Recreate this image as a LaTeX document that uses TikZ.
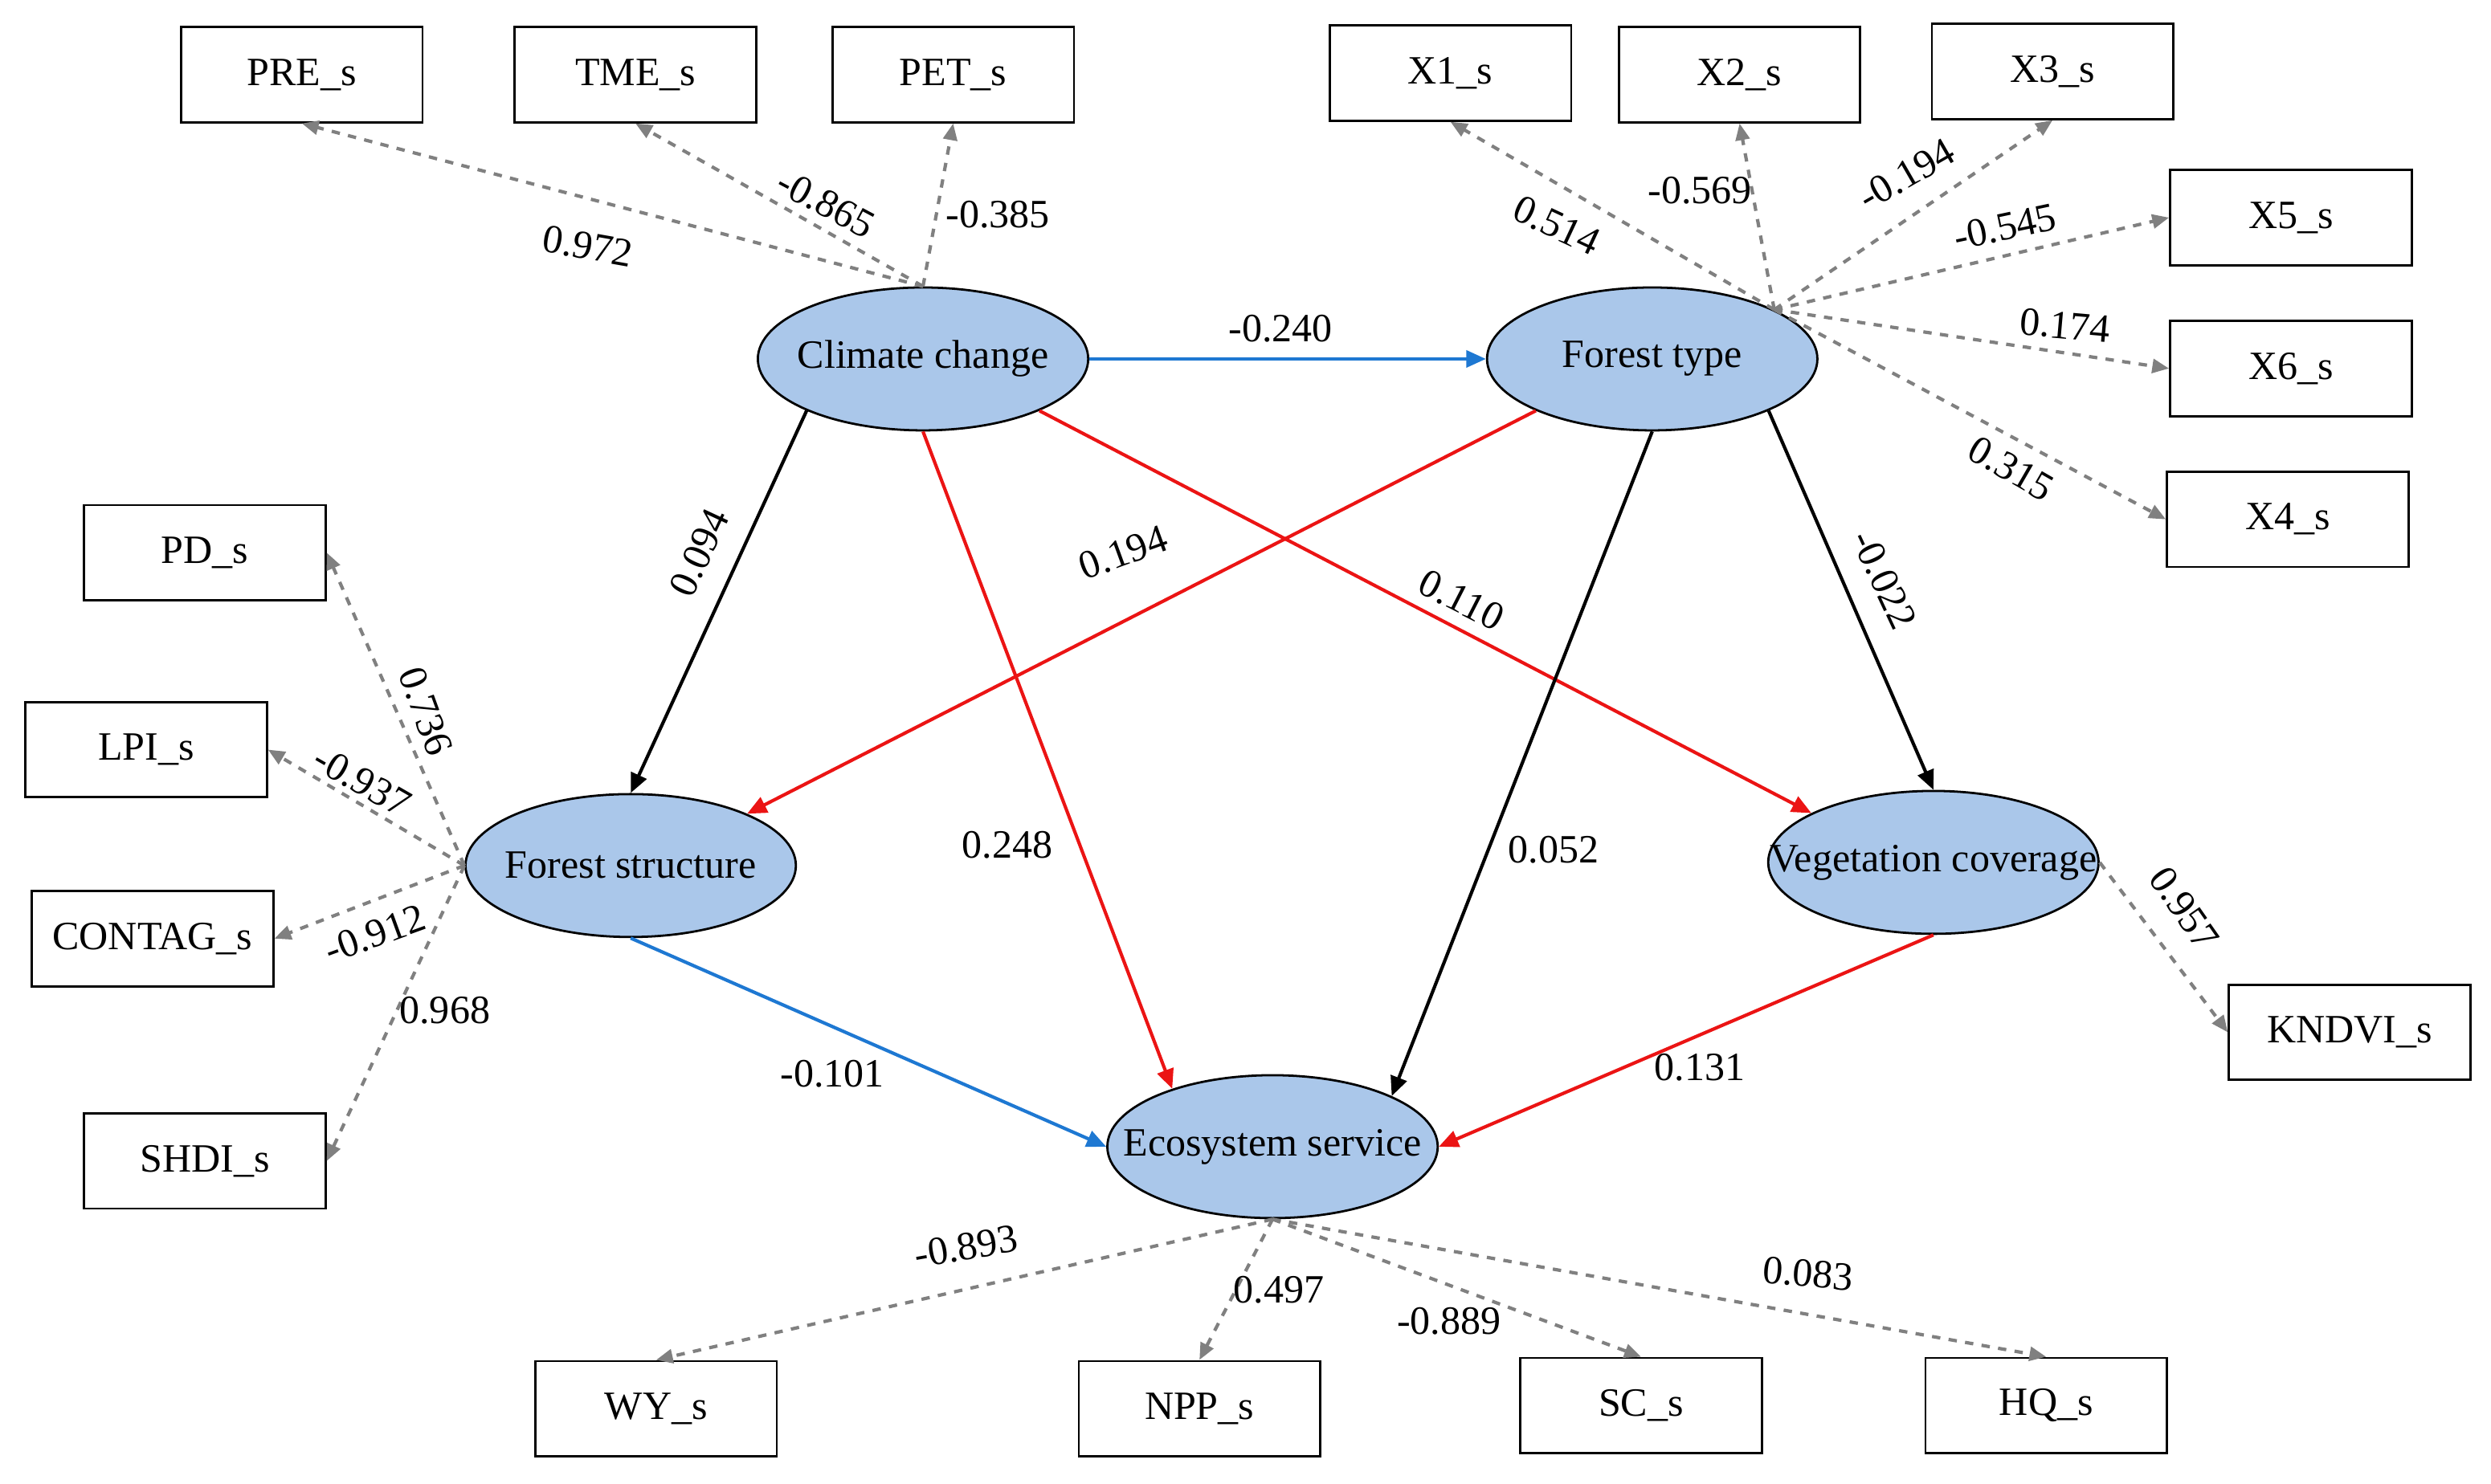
\documentclass[tikz,border=0pt]{standalone}
\usepackage{fontspec}
\setmainfont{Liberation Serif}
\usetikzlibrary{shapes.geometric,arrows.meta}
\definecolor{ellfill}{RGB}{170,199,234}
\definecolor{pathblue}{RGB}{30,120,210}
\definecolor{pathred}{RGB}{235,20,20}
\newcommand{\lvtext}[1]{\makebox[2.4cm]{#1}}
\tikzset{
  latent/.style={ellipse,draw,thick,fill=ellfill,minimum width=4.16cm,minimum height=1.8cm,inner sep=0pt,font=\Large},
  obs/.style={rectangle,draw,thick,minimum width=3.04cm,minimum height=1.2cm,font=\Large},
  load/.style={dashed,very thick,gray,-{Triangle[length=6pt,width=5pt]}},
  path/.style={very thick,-{Triangle[length=7pt,width=6pt]}},
  num/.style={font=\Large}
}
\begin{document}
\begin{tikzpicture}[x=0.02cm,y=-0.02cm]
  \useasboundingbox (0,0) rectangle (1568,934);
  % latent variables
  \node[latent] (cc) at (581,226) {\lvtext{Climate change}};
  \node[latent] (ft) at (1040,226) {\lvtext{Forest type}};
  \node[latent] (fs) at (397,545) {\lvtext{Forest structure}};
  \node[latent] (vc) at (1217,543) {\lvtext{Vegetation coverage}};
  \node[latent] (es) at (801,722) {\lvtext{Ecosystem service}};
  % indicators
  \node[obs] (pre) at (190,47) {PRE\_s};
  \node[obs] (tme) at (400,47) {TME\_s};
  \node[obs] (pet) at (600,47) {PET\_s};
  \node[obs] (x1) at (913,46) {X1\_s};
  \node[obs] (x2) at (1095,47) {X2\_s};
  \node[obs] (x3) at (1292,45) {X3\_s};
  \node[obs] (x5) at (1442,137) {X5\_s};
  \node[obs] (x6) at (1442,232) {X6\_s};
  \node[obs] (x4) at (1440,327) {X4\_s};
  \node[obs] (pd) at (129,348) {PD\_s};
  \node[obs] (lpi) at (92,472) {LPI\_s};
  \node[obs] (contag) at (96,591) {CONTAG\_s};
  \node[obs] (shdi) at (129,731) {SHDI\_s};
  \node[obs] (kndvi) at (1479,650) {KNDVI\_s};
  \node[obs] (wy) at (413,887) {WY\_s};
  \node[obs] (npp) at (755,887) {NPP\_s};
  \node[obs] (sc) at (1033,885) {SC\_s};
  \node[obs] (hq) at (1288,885) {HQ\_s};
  % loadings
  \draw[load] (cc.north) -- (pre.south);
  \draw[load] (cc.north) -- (tme.south);
  \draw[load] (cc.north) -- (pet.south);
  \draw[load] (ft.22) -- (x1.south);
  \draw[load] (ft.22) -- (x2.south);
  \draw[load] (ft.22) -- (x3.south);
  \draw[load] (ft.22) -- (x5.west);
  \draw[load] (ft.22) -- (x6.west);
  \draw[load] (ft.22) -- (x4.west);
  \draw[load] (fs.west) -- (pd.east);
  \draw[load] (fs.west) -- (lpi.east);
  \draw[load] (fs.west) -- (contag.east);
  \draw[load] (fs.west) -- (shdi.east);
  \draw[load] (vc.east) -- (kndvi.west);
  \draw[load] (es.south) -- (wy.north);
  \draw[load] (es.south) -- (npp.north);
  \draw[load] (es.south) -- (sc.north);
  \draw[load] (es.south) -- (hq.north);
  \node[num,rotate=-10] at (370,155) {0.972};
  \node[num,rotate=-28] at (520,128) {-0.865};
  \node[num] at (628,135) {-0.385};
  \node[num,rotate=-25] at (980,142) {0.514};
  \node[num] at (1070,120) {-0.569};
  \node[num,rotate=30] at (1200,110) {-0.194};
  \node[num,rotate=12] at (1262,143) {-0.545};
  \node[num,rotate=-5] at (1300,205) {0.174};
  \node[num,rotate=-30] at (1266,295) {0.315};
  \node[num,rotate=-70] at (268,448) {0.736};
  \node[num,rotate=-30] at (228,492) {-0.937};
  \node[num,rotate=20] at (236,588) {-0.912};
  \node[num] at (280,636) {0.968};
  \node[num,rotate=-55] at (1375,572) {0.957};
  \node[num,rotate=10] at (608,785) {-0.893};
  \node[num] at (805,812) {0.497};
  \node[num] at (912,832) {-0.889};
  \node[num,rotate=-5] at (1138,802) {0.083};
  % structural paths
  \draw[path,pathblue] (cc.east) -- (ft.west);
  \draw[path,black] (cc.204) -- (fs.north);
  \draw[path,pathred] (cc.south) -- (es.150);
  \draw[path,pathred] (cc.-24) -- (vc.158);
  \draw[path,pathred] (ft.204) -- (fs.24);
  \draw[path,black] (ft.south) -- (es.23);
  \draw[path,black] (ft.-24) -- (vc.north);
  \draw[path,pathblue] (fs.south) -- (es.west);
  \draw[path,pathred] (vc.south) -- (es.east);
  \node[num] at (806,207) {-0.240};
  \node[num,rotate=65] at (440,348) {0.094};
  \node[num] at (634,532) {0.248};
  \node[num,rotate=-27] at (920,378) {0.110};
  \node[num,rotate=20] at (707,348) {0.194};
  \node[num] at (978,535) {0.052};
  \node[num,rotate=-65] at (1186,365) {-0.022};
  \node[num] at (524,676) {-0.101};
  \node[num] at (1070,672) {0.131};
\end{tikzpicture}
\end{document}
